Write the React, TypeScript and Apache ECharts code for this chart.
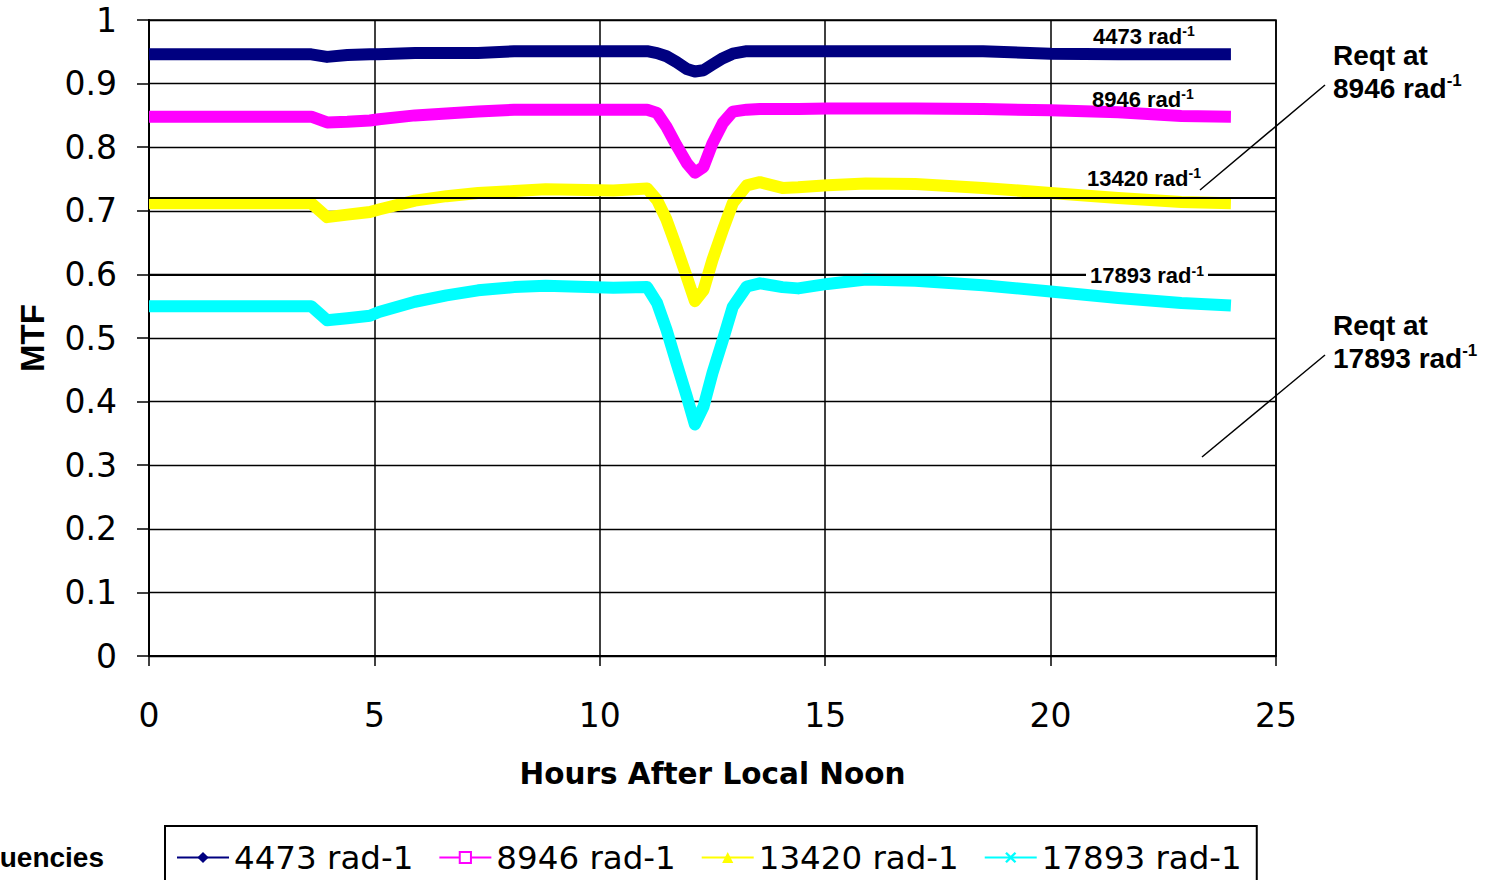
import React, { useEffect, useRef } from "react";
import * as echarts from "echarts";

// Hours after local noon (shared sample positions)
const HOURS = [
  0, 3.6, 3.95, 4.4, 4.9, 5.1, 5.9, 6.6, 7.3, 8.1, 8.8, 10.3, 11.05, 11.27, 11.48, 11.7,
  11.93, 12.11, 12.3, 12.5, 12.73, 12.95, 13.26, 13.55, 14.05, 14.4, 15.05, 15.9, 17.0,
  18.5, 20.0, 21.5, 22.9, 24,
];

const MTF_4473 = [
  0.946, 0.946, 0.942, 0.945, 0.946, 0.946, 0.948, 0.948, 0.948, 0.951, 0.951, 0.951, 0.951,
  0.948, 0.943, 0.934, 0.923, 0.919, 0.921, 0.93, 0.94, 0.947, 0.951, 0.951, 0.951, 0.951,
  0.951, 0.951, 0.951, 0.951, 0.947, 0.946, 0.946, 0.946,
];

const MTF_8946 = [
  0.848, 0.848, 0.839, 0.84, 0.842, 0.844, 0.85, 0.853, 0.856, 0.859, 0.859, 0.859, 0.859,
  0.854, 0.832, 0.803, 0.775, 0.76, 0.769, 0.806, 0.838, 0.856, 0.859, 0.86, 0.86, 0.86,
  0.861, 0.861, 0.861, 0.86, 0.858, 0.855, 0.849, 0.848,
];

const MTF_13420 = [
  0.712, 0.712, 0.69, 0.694, 0.698, 0.702, 0.716, 0.723, 0.728, 0.731, 0.734, 0.732, 0.735,
  0.717, 0.686, 0.643, 0.596, 0.558, 0.575, 0.623, 0.67, 0.712, 0.74, 0.745, 0.736, 0.737,
  0.74, 0.743, 0.742, 0.736, 0.728, 0.72, 0.714, 0.712,
];

const MTF_17893 = [
  0.55, 0.55, 0.528, 0.531, 0.535, 0.541, 0.557, 0.567, 0.575, 0.58, 0.582, 0.579, 0.58,
  0.555, 0.513, 0.461, 0.408, 0.364, 0.392, 0.445, 0.497, 0.549, 0.581, 0.586, 0.58, 0.578,
  0.585, 0.592, 0.59, 0.583, 0.573, 0.563, 0.555, 0.551,
];

const SERIES_NAMES = ["4473 rad-1", "8946 rad-1", "13420 rad-1", "17893 rad-1"];
const SERIES_VALUES = [MTF_4473, MTF_8946, MTF_13420, MTF_17893];
const SERIES_COLORS = ["#000080", "#ff00ff", "#ffff00", "#00ffff"];
const CROSS =
  "path://M0,1.5L1.5,0L5,3.5L8.5,0L10,1.5L6.5,5L10,8.5L8.5,10L5,6.5L1.5,10L0,8.5L3.5,5Z";
const SERIES_SYMBOLS = ["diamond", "emptyRect", "triangle", CROSS];

// Requirement levels (horizontal lines)
const REQT_LEVELS = [0.72, 0.6];

// Curve labels
const CURVE_LABELS = ["4473 rad", "8946 rad", "13420 rad", "17893 rad"];
const REQT_LABELS = ["8946 rad", "17893 rad"];

const X_TITLE = "Hours After Local Noon";
const Y_TITLE = "MTF";
const LEGEND_TITLE = "Frequencies";

const AX_FONT = "DejaVu Sans";
const ARIAL = "Liberation Sans";

export default function App() {
  const ref = useRef<HTMLDivElement>(null);

  useEffect(() => {
    if (!ref.current) return;
    document.body.style.margin = "0";
    const chart = echarts.init(ref.current, undefined, { renderer: "svg" });

    const series: any[] = SERIES_NAMES.map((name, si) => ({
      name,
      type: "line",
      data: HOURS.map((h, i) => [h, SERIES_VALUES[si][i]]),
      symbol: SERIES_SYMBOLS[si],
      showSymbol: false,
      smooth: false,
      color: SERIES_COLORS[si],
      lineStyle: { width: 12, color: SERIES_COLORS[si], cap: "butt", join: "round" },
      itemStyle: { color: SERIES_COLORS[si] },
      emphasis: { disabled: true },
      z: 2,
    }));
    series[3].markLine = {
      silent: true,
      symbol: ["none", "none"],
      z: 5,
      label: { show: false },
      lineStyle: { color: "#000", width: 2, type: "solid" },
      emphasis: { disabled: true },
      data: REQT_LEVELS.map((v) => ({ yAxis: v })),
    };

    const sup = (size: number) => ({
      fontFamily: ARIAL,
      fontWeight: "bold",
      fontSize: size,
      lineHeight: size,
      verticalAlign: "top",
      fill: "#000",
    });
    const main = (size: number, lh: number) => ({
      fontFamily: ARIAL,
      fontWeight: "bold",
      fontSize: size,
      lineHeight: lh,
      fill: "#000",
    });

    const curveLabelPos = [
      [1093, 36],
      [1092, 99],
      [1087, 178],
      [1086, 275.5],
    ];

    const curveLabelEls = CURVE_LABELS.map((t, i) => ({
      type: "text",
      x: curveLabelPos[i][0],
      y: curveLabelPos[i][1],
      z: 100,
      style: {
        text: `{b|${t}}{s|-1}`,
        align: "left",
        verticalAlign: "middle",
        backgroundColor: i === 3 ? "#fff" : undefined,
        padding: i === 3 ? [0, 4, 0, 4] : 0,
        rich: { b: main(22, 24), s: sup(14) },
      },
    }));

    const reqtPos = [
      [1333, 38.5],
      [1333, 308.5],
    ];
    const reqtEls = REQT_LABELS.map((t, i) => ({
      type: "text",
      x: reqtPos[i][0],
      y: reqtPos[i][1],
      z: 100,
      style: {
        text: `{b|Reqt at}\n{b|${t}}{s|-1}`,
        align: "left",
        verticalAlign: "top",
        rich: { b: main(28, 33), s: sup(17) },
      },
    }));

    const leaderEls = [
      [1200, 190, 1325, 85],
      [1202, 457, 1325, 355],
    ].map((p) => ({
      type: "line",
      z: 100,
      shape: { x1: p[0], y1: p[1], x2: p[2], y2: p[3] },
      style: { stroke: "#000", lineWidth: 1.5 },
    }));

    const option: any = {
      animation: false,
      backgroundColor: "#fff",
      grid: {
        left: 149,
        right: 219,
        top: 20,
        bottom: 224,
        show: true,
        borderColor: "#000",
        borderWidth: 1.5,
        backgroundColor: "transparent",
        containLabel: false,
        outerBoundsMode: "none",
      },
      xAxis: {
        type: "value",
        min: 0,
        max: 25,
        interval: 5,
        name: X_TITLE,
        nameLocation: "middle",
        nameGap: 103,
        nameMoveOverlap: false,
        nameTextStyle: {
          fontFamily: AX_FONT,
          fontWeight: "bold",
          fontSize: 29.5,
          color: "#000",
        },
        axisLine: { show: true, onZero: false, lineStyle: { color: "#000", width: 2 } },
        axisTick: { show: true, inside: false, length: 10, lineStyle: { color: "#000", width: 1.5 } },
        axisLabel: { fontFamily: AX_FONT, fontSize: 33, color: "#000", margin: 43 },
        splitLine: { show: true, lineStyle: { color: "#000", width: 1.5 } },
      },
      yAxis: {
        type: "value",
        min: 0,
        max: 1,
        interval: 0.1,
        name: Y_TITLE,
        nameLocation: "middle",
        nameGap: 100,
        nameRotate: 90,
        nameMoveOverlap: false,
        nameTextStyle: {
          fontFamily: ARIAL,
          fontWeight: "bold",
          fontSize: 33,
          color: "#000",
        },
        axisLine: { show: true, lineStyle: { color: "#000", width: 2 } },
        axisTick: { show: true, inside: false, length: 12, lineStyle: { color: "#000", width: 1.5 } },
        axisLabel: { fontFamily: AX_FONT, fontSize: 33, color: "#000", margin: 32 },
        splitLine: { show: true, lineStyle: { color: "#000", width: 1.3 } },
      },
      legend: {
        show: true,
        data: SERIES_NAMES,
        orient: "horizontal",
        left: 165,
        top: 826,
        padding: [15, 15, 22, 11],
        itemGap: 25,
        itemWidth: 52,
        itemHeight: 14,
        backgroundColor: "#fff",
        borderColor: "#000",
        borderWidth: 2,
        borderRadius: 0,
        selectedMode: false,
        lineStyle: { width: 2 },
        textStyle: { fontFamily: AX_FONT, fontSize: 32.5, color: "#000" },
      },
      tooltip: { show: false },
      series,
      graphic: {
        elements: [
          ...curveLabelEls,
          ...reqtEls,
          ...leaderEls,
          {
            type: "text",
            x: 104,
            y: 857,
            z: 100,
            style: {
              text: LEGEND_TITLE,
              align: "right",
              verticalAlign: "middle",
              fontFamily: ARIAL,
              fontWeight: "bold",
              fontSize: 28,
              fill: "#000",
            },
          },
        ],
      },
    };

    chart.setOption(option);
    return () => chart.dispose();
  }, []);

  return (
    <div
      style={{
        position: "fixed",
        left: 0,
        top: 0,
        width: 1495,
        height: 880,
        margin: 0,
        padding: 0,
        overflow: "hidden",
        background: "#fff",
      }}
    >
      <div ref={ref} style={{ position: "absolute", left: 0, top: 0, width: 1495, height: 880 }} />
    </div>
  );
}
